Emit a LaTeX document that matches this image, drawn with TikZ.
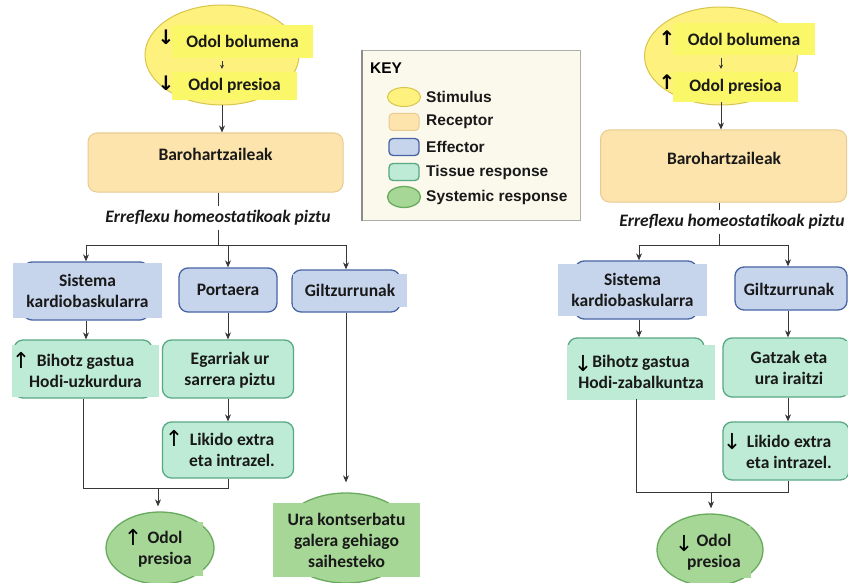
\documentclass[tikz,border=0pt]{standalone}
\usepackage{fontspec}
\setmainfont{Carlito}
\newfontfamily\keyfont{Liberation Sans}
\newfontfamily\arrowfont{DejaVu Sans}
\usetikzlibrary{shapes.geometric,arrows.meta,calc}

\definecolor{stimfill}{RGB}{255,241,125}
\definecolor{stimedge}{RGB}{215,198,75}
\definecolor{stimpatch}{RGB}{250,247,105}
\definecolor{recfill}{RGB}{252,228,172}
\definecolor{recedge}{RGB}{232,203,145}
\definecolor{efffill}{RGB}{198,212,236}
\definecolor{effedge}{RGB}{72,100,165}
\definecolor{tisfill}{RGB}{190,235,214}
\definecolor{tisedge}{RGB}{88,168,132}
\definecolor{sysfill}{RGB}{166,215,150}
\definecolor{sysedge}{RGB}{105,170,95}
\definecolor{keyfill}{RGB}{251,248,236}
\definecolor{keyedge}{RGB}{175,175,170}
\definecolor{linecol}{RGB}{55,55,55}
\definecolor{txt}{RGB}{25,25,25}

\tikzset{
  txtstyle/.style={font=\fontsize{17.5}{21}\selectfont\bfseries, text=txt, align=center, inner sep=0pt},
  stimshape/.style={ellipse, draw=stimedge, fill=stimfill, line width=1pt, inner sep=0pt},
  recshape/.style={rectangle, rounded corners=9pt, draw=recedge, fill=recfill, line width=1pt, txtstyle},
  effshape/.style={rectangle, rounded corners=9pt, draw=effedge, fill=efffill, line width=1.3pt, txtstyle},
  tisshape/.style={rectangle, rounded corners=9pt, draw=tisedge, fill=tisfill, line width=1.3pt, txtstyle},
  sysshape/.style={ellipse, draw=sysedge, fill=sysfill, line width=1.3pt, inner sep=0pt},
  patch/.style={rectangle, txtstyle, fill=#1},
  bigarrow/.style={font=\arrowfont\fontsize{22}{22}\selectfont, text=black, inner sep=0pt},
  smallarrow/.style={font=\arrowfont\bfseries\fontsize{20}{20}\selectfont, text=black, inner sep=0pt},
  wire/.style={draw=linecol, line width=0.9pt},
  conn/.style={wire, -{Stealth[length=7pt,width=6pt]}},
  keylabel/.style={font=\keyfont\bfseries\fontsize{15.5}{15.5}\selectfont, text=txt, anchor=west, inner sep=0pt},
  reflex/.style={font=\fontsize{17.5}{20}\selectfont\bfseries\itshape, text=txt, inner sep=4pt}
}

\begin{document}
\begin{tikzpicture}[x=1pt,y=-1pt]
\useasboundingbox[fill=white] (0,0) rectangle (848,583);

% ---------------- key ----------------
\node[rectangle, draw=keyedge, fill=keyfill, line width=1pt, minimum width=218, minimum height=170, anchor=north west] (key) at (362,50) {};
\draw[keyedge!80!black, line width=1.2pt] (key.north west) -- (key.south west);
\node[font=\keyfont\bfseries\fontsize{15.5}{15.5}\selectfont, anchor=west, inner sep=0pt] (keytitle) at (370,68) {KEY};
\node[stimshape, minimum width=33, minimum height=19] (k1) at (404,97) {};
\node[recshape, rounded corners=4pt, minimum width=30, minimum height=17] (k2) at (404,122) {};
\node[effshape, rounded corners=4pt, minimum width=30, minimum height=17] (k3) at (404,147) {};
\node[tisshape, rounded corners=4pt, minimum width=30, minimum height=17] (k4) at (404,172) {};
\node[sysshape, minimum width=33, minimum height=21] (k5) at (404,197) {};
\node[keylabel] (k1t) at (426,97) {Stimulus};
\node[keylabel] (k2t) at (426,122) {Receptor};
\node[keylabel] (k3t) at (426,147) {Effector};
\node[keylabel] (k4t) at (426,172) {Tissue response};
\node[keylabel] (k5t) at (426,197) {Systemic response};

% ---------------- left: falling volume ----------------
\node[stimshape, minimum width=154, minimum height=100] (lstim) at (222,55) {};
\node[patch=stimpatch, minimum width=141, minimum height=33] (lvol) at (242.5,41.5) {Odol bolumena};
\node[patch=stimpatch, minimum width=125, minimum height=28] (lpres) at (234.5,86) {Odol presioa};
\node[smallarrow] (la1) at (166,37) {↓};
\node[smallarrow] (la2) at (166,83) {↓};
\draw[conn, -{Stealth[length=4pt,width=4pt]}, shorten <=3pt, shorten >=3pt] (lvol.south -| lstim.center) -- (lpres.north -| lstim.center);

\node[recshape, minimum width=255, minimum height=59] (lrec) at (215.5,162.5) {};
\node[txtstyle] (lrect) at (215.5,154) {Barohartzaileak};
\draw[conn] (lstim.south) -- (lstim.south |- lrec.north);

\node[reflex] (lref) at (218,218) {Erreflexu homeostatikoak piztu};
\coordinate (ljun) at (218,245);
\draw[wire] (lrec.south -| lref.north) -- (lref.north);
\draw[wire] (lref.south) -- (ljun);

% effectors
\node[effshape, minimum width=126, minimum height=58] (lsis) at (86,291) {};
\node[patch=efffill, minimum width=149, minimum height=55] (lsist) at (87.5,290.5) {Sistema\\kardiobaskularra};
\node[effshape, minimum width=98, minimum height=44] (lpor) at (228,290) {Portaera};
\node[effshape, minimum width=108, minimum height=42] (lgil) at (346,291) {};
\node[patch=efffill, minimum width=114, minimum height=33] (lgilt) at (350,290.5) {Giltzurrunak};

\draw[wire] (lsis.north |- ljun) -- (lgil.north |- ljun);
\draw[conn] (lsis.north |- ljun) -- (lsis.north);
\draw[conn] (lpor.north |- ljun) -- (lpor.north);
\draw[conn] (lgil.north |- ljun) -- (lgil.north);

% tissue responses
\node[tisshape, minimum width=138, minimum height=58] (lbih) at (83,369) {};
\node[patch=tisfill, minimum width=147, minimum height=52] (lbiht) at (85.5,371) {Bihotz gastua\\Hodi-uzkurdura};
\node[bigarrow] (lbiha) at (21,360) {↑};
\node[tisshape, minimum width=131, minimum height=58] (legar) at (228,369) {};
\node[patch=tisfill, minimum width=112, minimum height=50] (legart) at (230,370) {Egarriak ur\\sarrera piztu};
\node[tisshape, minimum width=131, minimum height=56] (llik) at (228,450) {};
\node[patch=tisfill, minimum width=108, minimum height=50] (llikt) at (232,450) {Likido extra\\eta intrazel.};
\node[bigarrow] (llika) at (174,438) {↑};

\draw[conn] (lsis.south) -- (lsis.south |- lbih.north);
\draw[conn] (lpor.south) -- (legar.north);
\draw[conn] (legar.south) -- (llik.north);

% systemic responses
\node[sysshape, minimum width=108, minimum height=72] (lodol) at (160,548) {};
\node[patch=sysfill, minimum width=76, minimum height=54] (lodolt) at (165,549) {Odol\\presioa};
\node[bigarrow] (lodola) at (133,537) {↑};
\node[sysshape, minimum width=135, minimum height=90] (lura) at (346,538) {};
\node[patch=sysfill, minimum width=147, minimum height=74] (lurat) at (346.5,540) {Ura kontserbatu\\galera gehiago\\saihesteko};

\coordinate (lmerge) at (158,488);
\draw[wire] (lbih.south) -- (lbih.south |- lmerge) -- (llik.south |- lmerge) -- (llik.south);
\draw[conn, shorten >=5pt] (lmerge) -- (lmerge |- lodol.north);
\draw[conn, shorten >=10pt] (lgil.south) -- (lura.north);

% ---------------- right: rising volume ----------------
\node[stimshape, minimum width=153, minimum height=98] (rstim) at (721,56) {};
\node[patch=stimpatch, minimum width=142, minimum height=32] (rvol) at (744,39) {Odol bolumena};
\node[patch=stimpatch, minimum width=125, minimum height=30] (rpres) at (735.5,87) {Odol presioa};
\node[smallarrow] (ra1) at (667,38) {↑};
\node[smallarrow] (ra2) at (667,82) {↑};
\draw[conn, -{Stealth[length=4pt,width=4pt]}, shorten <=3pt, shorten >=3pt] (rvol.south -| rstim.center) -- (rpres.north -| rstim.center);

\node[recshape, minimum width=246, minimum height=72] (rrec) at (723.5,166) {};
\node[txtstyle] (rrect) at (724,158) {Barohartzaileak};
\draw[conn] (rstim.south |- rpres.south) -- (rstim.south |- rrec.north);

\node[reflex] (rref) at (732,222) {Erreflexu homeostatikoak piztu};
\coordinate (rjun) at (719,245);
\draw[wire] (rrec.south -| rjun) -- (rref.north -| rjun);
\draw[wire] (rref.south -| rjun) -- (rjun);

\node[effshape, minimum width=122, minimum height=58] (rsis) at (636,290) {};
\node[patch=efffill, minimum width=149, minimum height=52] (rsist) at (632.5,290) {Sistema\\kardiobaskularra};
\node[effshape, minimum width=112, minimum height=43] (rgil) at (791,288.5) {};
\node[patch=efffill, minimum width=104, minimum height=33] (rgilt) at (789,289) {Giltzurrunak};

\coordinate (rsisin) at (639,245);
\coordinate (rgilin) at (788,245);
\draw[wire] (rsisin) -- (rgilin);
\draw[conn] (rsisin) -- (rsisin |- rsis.north);
\draw[conn] (rgilin) -- (rgilin |- rgil.north);

\node[tisshape, minimum width=136, minimum height=60] (rbih) at (636,368) {};
\node[patch=tisfill, minimum width=148, minimum height=55] (rbiht) at (641,372) {Bihotz gastua\\Hodi-zabalkuntza};
\node[bigarrow] (rbiha) at (583,364) {↓};
\node[tisshape, minimum width=126, minimum height=59] (rgatz) at (786,367.5) {};
\node[patch=tisfill, minimum width=118, minimum height=54] (rgatzt) at (789,368) {Gatzak eta\\ura iraitzi};
\node[tisshape, minimum width=126, minimum height=58] (rlik) at (786,451) {};
\node[patch=tisfill, minimum width=114, minimum height=52] (rlikt) at (789,452) {Likido extra\\eta intrazel.};
\node[bigarrow] (rlika) at (732,442) {↓};

\draw[conn] (rsisin |- rsis.south) -- (rsisin |- rbih.north);
\draw[conn] (rgilin |- rgil.south) -- (rgilin |- rgatz.north);
\draw[conn] (rgilin |- rgatz.south) -- (rgilin |- rlik.north);

\node[sysshape, minimum width=106, minimum height=72] (rodol) at (710,550) {};
\node[patch=sysfill, minimum width=74, minimum height=52] (rodolt) at (714,552) {Odol\\presioa};
\node[bigarrow] (rodola) at (684,544) {↓};

\coordinate (rmerge) at (711,492);
\draw[wire] (rbih.south) -- (rbih.south |- rmerge) -- (rgilin |- rmerge) -- (rgilin |- rlik.south);
\draw[conn, shorten >=5pt] (rmerge) -- (rmerge |- rodol.north);
\end{tikzpicture}
\end{document}
